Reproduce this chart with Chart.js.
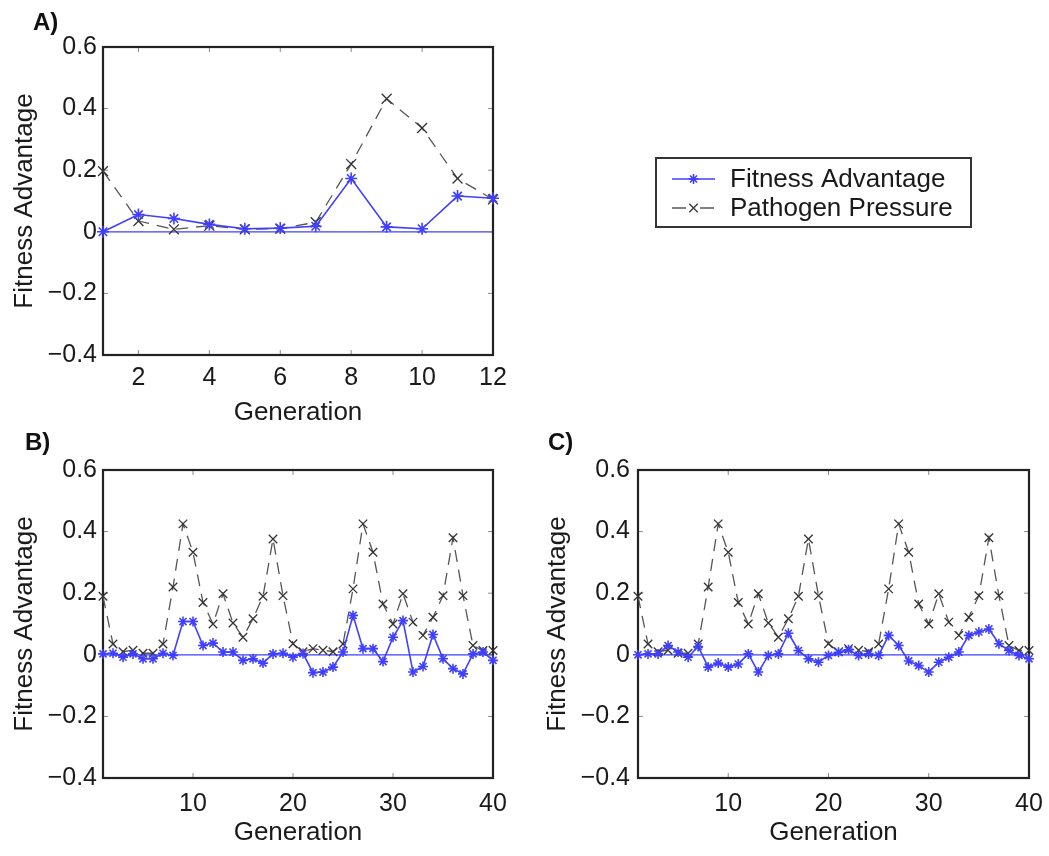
<!DOCTYPE html>
<html><head><meta charset="utf-8">
<script src="https://cdn.jsdelivr.net/npm/chart.js@4/dist/chart.umd.min.js"></script>
<style>
html,body{margin:0;padding:0;background:#fff;width:1049px;height:856px;overflow:hidden;}
.wrap{position:absolute;}
.lbl{position:absolute;font:bold 24px "Liberation Sans",Arial,sans-serif;color:#111;line-height:24px;}
</style></head><body>
<div class="wrap" style="left:0;top:0;width:1049px;height:440px"><canvas id="cA"></canvas></div>
<div class="wrap" style="left:0;top:420px;width:525px;height:436px"><canvas id="cB"></canvas></div>
<div class="wrap" style="left:525px;top:420px;width:524px;height:436px"><canvas id="cC"></canvas></div>
<div class="lbl" style="left:33px;top:10px">A)</div>
<div class="lbl" style="left:25px;top:430px">B)</div>
<div class="lbl" style="left:548px;top:430px">C)</div>
<script>
// ---- data ----
const generationsA = [1,2,3,4,5,6,7,8,9,10,11,12];
const fitnessA  = [0.0, 0.056, 0.043, 0.024, 0.01, 0.012, 0.018, 0.173, 0.016, 0.01, 0.116, 0.109];
const pathogenA = [0.197, 0.035, 0.008, 0.02, 0.008, 0.01, 0.031, 0.22, 0.432, 0.337, 0.173, 0.105];

const generations40 = [1,2,3,4,5,6,7,8,9,10,11,12,13,14,15,16,17,18,19,20,
  21,22,23,24,25,26,27,28,29,30,31,32,33,34,35,36,37,38,39,40];
const pathogen40 = [0.19,0.035,0.01,0.015,0.005,0.005,0.035,0.22,0.425,0.333,
  0.17,0.1,0.198,0.103,0.057,0.117,0.19,0.376,0.192,0.036,
  0.01,0.02,0.015,0.01,0.035,0.214,0.425,0.333,0.165,0.1,
  0.198,0.106,0.063,0.122,0.192,0.38,0.192,0.03,0.014,0.014];
const fitnessB = [0.003,0.005,-0.008,0.003,-0.013,-0.013,0.005,-0.002,0.108,0.108,
  0.03,0.038,0.009,0.009,-0.018,-0.013,-0.027,0.003,0.005,-0.008,
  0.004,-0.058,-0.056,-0.04,0.009,0.128,0.02,0.02,-0.022,0.057,
  0.111,-0.056,-0.038,0.066,-0.013,-0.045,-0.062,0.003,0.009,-0.018];
const fitnessC = [0,0.003,0.003,0.03,0.009,-0.008,0.027,-0.04,-0.027,-0.04,
  -0.03,0.003,-0.056,-0.002,0.003,0.07,0.014,-0.013,-0.024,-0.002,
  0.008,0.016,-0.002,0.003,-0.002,0.063,0.03,-0.02,-0.035,-0.056,
  -0.024,-0.008,0.009,0.063,0.074,0.084,0.036,0.014,-0.002,-0.013];

const yTickValues = [-0.4,-0.2,0,0.2,0.4,0.6];
const yTickLabels = ['\u22120.4','\u22120.2','0','0.2','0.4','0.6'];
const xTicksA  = [2,4,6,8,10,12];
const xTicks40 = [10,20,30,40];
const seriesNames = ['Fitness Advantage','Pathogen Pressure'];
const axisTitles = {x:'Generation', y:'Fitness Advantage'};

// ---- style ----
const FONT = '"Liberation Sans", Arial, Helvetica, sans-serif';
const BLUE = '#3f3fff';
const GRAY = '#555555';
Chart.defaults.font.family = FONT;
Chart.defaults.color = '#1a1a1a';

const framePlugin = {
  id: 'matlabFrame',
  beforeDatasetsDraw(chart) {
    const {ctx, chartArea: a, scales} = chart;
    const y0 = scales.y.getPixelForValue(0);
    ctx.save();
    // zero line
    ctx.strokeStyle = BLUE; ctx.lineWidth = 1.2;
    ctx.beginPath(); ctx.moveTo(a.left, y0); ctx.lineTo(a.right, y0); ctx.stroke();
    // inner ticks
    ctx.strokeStyle = '#8a8a8a'; ctx.lineWidth = 1;
    const tl = 5;
    scales.x.ticks.forEach(t => {
      const x = scales.x.getPixelForValue(t.value);
      ctx.beginPath();
      ctx.moveTo(x, a.bottom); ctx.lineTo(x, a.bottom - tl);
      ctx.moveTo(x, a.top); ctx.lineTo(x, a.top + tl);
      ctx.stroke();
    });
    scales.y.ticks.forEach(t => {
      const y = scales.y.getPixelForValue(t.value);
      ctx.beginPath();
      ctx.moveTo(a.left, y); ctx.lineTo(a.left + tl, y);
      ctx.moveTo(a.right, y); ctx.lineTo(a.right - tl, y);
      ctx.stroke();
    });
    // box
    ctx.strokeStyle = '#222'; ctx.lineWidth = 2.2;
    ctx.strokeRect(a.left, a.top, a.right - a.left, a.bottom - a.top);
    ctx.restore();
  }
};

const legendPlugin = {
  id: 'boxLegend',
  afterDraw(chart) {
    const ctx = chart.ctx;
    ctx.save();
    ctx.strokeStyle = '#333'; ctx.lineWidth = 2;
    ctx.strokeRect(656, 158, 315, 69);
    chart.data.datasets.forEach((ds, i) => {
      const y = 179 + i * 29;
      ctx.strokeStyle = ds.borderColor; ctx.lineWidth = ds.borderWidth;
      ctx.setLineDash(i === 0 ? [] : [14, 14]);
      ctx.beginPath(); ctx.moveTo(672, y); ctx.lineTo(715, y); ctx.stroke();
      ctx.setLineDash([]);
      ctx.strokeStyle = ds.pointBorderColor; ctx.fillStyle = ds.pointBorderColor;
      Chart.helpers.drawPoint(ctx, {pointStyle: ds.pointStyle, radius: ds.pointRadius - 1,
        borderWidth: ds.pointBorderWidth, rotation: 0}, 693.5, y);
      ctx.fillStyle = '#1a1a1a';
      ctx.font = '26px ' + FONT;
      ctx.textBaseline = 'middle'; ctx.textAlign = 'left';
      ctx.fillText(ds.label, 730, y + 1);
    });
    ctx.restore();
  }
};

function pairs(xs, ys) { return xs.map((x, i) => ({x, y: ys[i]})); }

function makeChart(id, gens, fit, path, xTicks, g, extraPlugins) {
  return new Chart(document.getElementById(id), {
    type: 'line',
    data: {
      datasets: [
        {label: seriesNames[0], data: pairs(gens, fit), borderColor: BLUE, borderWidth: 1.6,
         pointStyle: 'star', pointRadius: g.r, pointBorderColor: BLUE, pointBackgroundColor: BLUE,
         pointBorderWidth: 1.6, tension: 0, clip: false},
        {label: seriesNames[1], data: pairs(gens, path), borderColor: GRAY, borderWidth: 1.3,
         borderDash: [12, 8], pointStyle: 'crossRot', pointRadius: g.r + 1, pointBorderColor: '#333',
         pointBackgroundColor: '#333', pointBorderWidth: 1.3, tension: 0, clip: false}
      ]
    },
    options: {
      responsive: true, maintainAspectRatio: false, animation: false, devicePixelRatio: 1,
      layout: {padding: {left: 0, top: g.padTop, right: g.padRight, bottom: 0}},
      plugins: {legend: {display: false}, tooltip: {enabled: false}, title: {display: false}},
      events: [],
      scales: {
        x: {
          type: 'linear', min: gens[0], max: gens[gens.length - 1],
          afterBuildTicks: s => { s.ticks = xTicks.map(v => ({value: v})); },
          afterFit: s => { s.height = g.xH; s.paddingLeft = 0; s.paddingRight = 0; },
          grid: {display: false, drawTicks: false},
          border: {display: false},
          ticks: {font: {size: 25}, padding: g.xTickPad, maxRotation: 0, autoSkip: false, color: '#1a1a1a'},
          title: {display: true, text: axisTitles.x, font: {size: 26}, color: '#1a1a1a',
                  padding: {top: 0, bottom: g.xTitlePad}}
        },
        y: {
          type: 'linear', min: -0.4, max: 0.6,
          afterBuildTicks: s => { s.ticks = yTickValues.map(v => ({value: v})); },
          afterFit: s => { s.width = g.yW; s.paddingTop = 0; s.paddingBottom = 0; },
          grid: {display: false, drawTicks: false},
          border: {display: false},
          ticks: {font: {size: 25}, padding: g.yTickPad, autoSkip: false, color: '#1a1a1a',
                  callback: (v, i) => yTickLabels[i]},
          title: {display: true, text: axisTitles.y, font: {size: 26}, color: '#1a1a1a',
                  padding: {top: g.yTitlePad, bottom: 0}}
        }
      }
    },
    plugins: [framePlugin].concat(extraPlugins || [])
  });
}

makeChart('cA', generationsA, fitnessA, pathogenA, xTicksA,
  {padTop: 47, padRight: 1049 - 493, xH: 440 - 355, yW: 103, xTickPad: 8, xTitlePad: 12,
   yTickPad: 6, yTitlePad: 9, r: 6}, [legendPlugin]);
makeChart('cB', generations40, fitnessB, pathogen40, xTicks40,
  {padTop: 50, padRight: 525 - 493, xH: 436 - 358, yW: 103, xTickPad: 11, xTitlePad: 8,
   yTickPad: 6, yTitlePad: 9, r: 5});
makeChart('cC', generations40, fitnessC, pathogen40, xTicks40,
  {padTop: 50, padRight: 524 - 504, xH: 436 - 358, yW: 113, xTickPad: 11, xTitlePad: 8,
   yTickPad: 8, yTitlePad: 17, r: 5});
</script>
</body></html>
